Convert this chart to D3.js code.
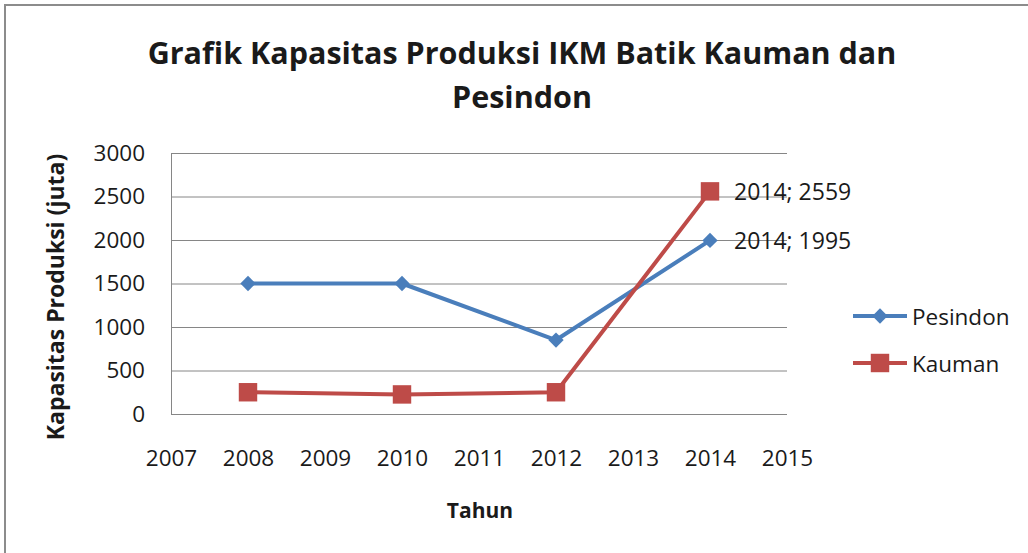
<!DOCTYPE html>
<html>
<head>
<meta charset="utf-8">
<script src="https://cdn.jsdelivr.net/npm/d3@7"></script>
<style>
  body { margin: 0; background: #fff; }
  text { font-family: "Open Sans", sans-serif; fill: #1a1a1a; }
</style>
</head>
<body>
<div id="chart"></div>
<script>
// Data
const years = [2008, 2010, 2012, 2014];
const pesindon = [1500, 1500, 850, 1995];
const kauman = [250, 225, 250, 2559];
const yTicks = [0, 500, 1000, 1500, 2000, 2500, 3000];
const xTicks = [2007, 2008, 2009, 2010, 2011, 2012, 2013, 2014, 2015];
const seriesNames = ["Pesindon", "Kauman"];

const w = 1028, h = 553;
const plotLeft = 171, plotRight = 787, plotTop = 153, plotBottom = 414;
const blue = "#4a7ebb", red = "#be4b48";

const xScale = d3.scaleLinear().domain([2007, 2015]).range([plotLeft, plotRight]);
const yScale = d3.scaleLinear().domain([0, 3000]).range([plotBottom, plotTop]);

const svg = d3.select("#chart").append("svg")
    .attr("width", w)
    .attr("height", h);

// Chart border (only top and left visible in the crop)
svg.append("rect")
    .attr("x", 5).attr("y", 5)
    .attr("width", w + 10).attr("height", h + 10)
    .attr("fill", "#fff")
    .attr("stroke", "#8c8c8c")
    .attr("stroke-width", 2);

// Title
const title = svg.append("text")
    .attr("text-anchor", "middle")
    .attr("font-size", 30.5)
    .attr("font-weight", "bold");
title.append("tspan").attr("x", 522).attr("y", 64).text("Grafik Kapasitas Produksi IKM Batik Kauman dan");
title.append("tspan").attr("x", 522).attr("y", 108).text("Pesindon");

// Gridlines and y-axis labels
const yAxis = d3.axisLeft(yScale)
    .tickValues(yTicks)
    .tickSize(-(plotRight - plotLeft))
    .tickPadding(26)
    .tickFormat(d3.format("d"));

const gy = svg.append("g")
    .attr("transform", `translate(${plotLeft},0)`)
    .call(yAxis);
gy.select(".domain").attr("stroke", "#868686");
gy.selectAll(".tick line").attr("stroke", "#868686");
gy.selectAll(".tick text")
    .attr("font-size", 22.5)
    .attr("font-family", "Open Sans, sans-serif")
    .attr("fill", "#1a1a1a");

// X-axis labels (no line; the 0 gridline acts as axis)
const xAxis = d3.axisBottom(xScale)
    .tickValues(xTicks)
    .tickSize(0)
    .tickPadding(36)
    .tickFormat(d3.format("d"));

const gx = svg.append("g")
    .attr("transform", `translate(0,${plotBottom})`)
    .call(xAxis);
gx.select(".domain").remove();
gx.selectAll(".tick text")
    .attr("font-size", 22.5)
    .attr("font-family", "Open Sans, sans-serif")
    .attr("fill", "#1a1a1a");

// Axis titles
svg.append("text")
    .attr("x", 480).attr("y", 518)
    .attr("text-anchor", "middle")
    .attr("font-size", 21)
    .attr("font-weight", "bold")
    .text("Tahun");

svg.append("text")
    .attr("transform", `translate(64,297) rotate(-90)`)
    .attr("text-anchor", "middle")
    .attr("font-size", 23)
    .attr("font-weight", "bold")
    .text("Kapasitas Produksi (juta)");

// Lines
const line = d3.line()
    .x((d, i) => xScale(years[i]))
    .y(d => yScale(d));

svg.append("path")
    .datum(pesindon)
    .attr("d", line)
    .attr("fill", "none")
    .attr("stroke", blue)
    .attr("stroke-width", 4)
    .attr("stroke-linejoin", "round");

svg.append("path")
    .datum(kauman)
    .attr("d", line)
    .attr("fill", "none")
    .attr("stroke", red)
    .attr("stroke-width", 4)
    .attr("stroke-linejoin", "round");

// Markers
const diamond = d3.symbol().type(d3.symbolDiamond2).size(150);
const square = d3.symbol().type(d3.symbolSquare).size(340);

svg.selectAll(".m-pes")
    .data(pesindon)
    .enter()
    .append("path")
    .attr("d", diamond)
    .attr("transform", (d, i) => `translate(${xScale(years[i])},${yScale(d)})`)
    .attr("fill", blue);

svg.selectAll(".m-kau")
    .data(kauman)
    .enter()
    .append("path")
    .attr("d", square)
    .attr("transform", (d, i) => `translate(${xScale(years[i])},${yScale(d)})`)
    .attr("fill", red);

// Data labels for last points
const last = years.length - 1;
[kauman, pesindon].forEach(s => {
    svg.append("text")
        .attr("x", xScale(years[last]) + 24)
        .attr("y", yScale(s[last]))
        .attr("dominant-baseline", "central")
        .attr("font-size", 23)
        .text(`${years[last]}; ${s[last]}`);
});

// Legend
const legend = svg.append("g");
const legendY = [316, 363];
const legendColors = [blue, red];
const legendSymbols = [diamond, square];
seriesNames.forEach((name, i) => {
    const g = legend.append("g").attr("transform", `translate(853,${legendY[i]})`);
    g.append("line")
        .attr("x1", 0).attr("x2", 54)
        .attr("stroke", legendColors[i])
        .attr("stroke-width", 4);
    g.append("path")
        .attr("d", legendSymbols[i])
        .attr("transform", "translate(27,0)")
        .attr("fill", legendColors[i]);
    g.append("text")
        .attr("x", 59)
        .attr("dominant-baseline", "central")
        .attr("font-size", 22.5)
        .text(name);
});
</script>
</body>
</html>
